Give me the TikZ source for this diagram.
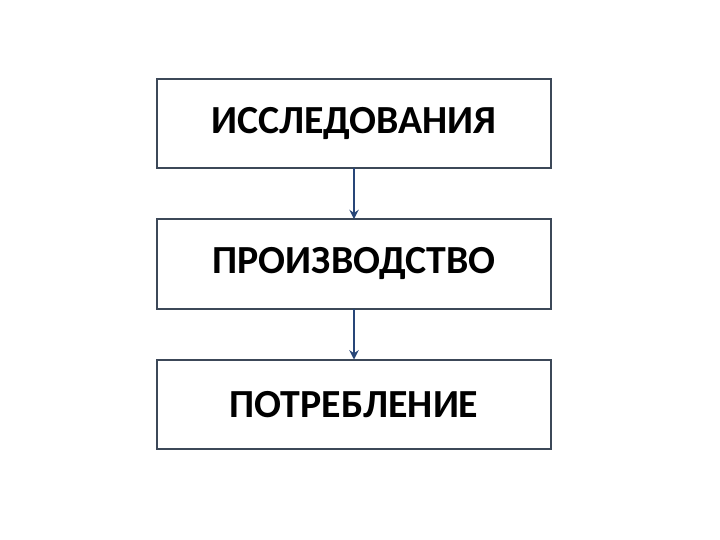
\documentclass[tikz,border=0pt]{standalone}
\usepackage{fontspec}
\setmainfont{Carlito}
\usetikzlibrary{positioning,arrows.meta}
\begin{document}
\begin{tikzpicture} [x=0.03cm,y=-0.03cm,% ------ Schéma -----------------
      box/.style={draw=boxcol, line width=1.7pt, minimum width=11.82cm,
        minimum height=2.68cm, inner sep=0pt, outer sep=0pt,
        font=\fontsize{34}{40}\selectfont\bfseries},
      link/.style={draw=linkcol, line width=1.7pt, -{Stealth[length=8pt,width=8pt]}}]
    \definecolor{boxcol}{RGB}{60,72,88}
    \definecolor{linkcol}{RGB}{40,70,120}
    \useasboundingbox (0,0) rectangle (720,540);
    \node [box] (recherche) at (354,123.5) {ИССЛЕДОВАНИЯ};
    \node [box, below=1.53cm of recherche] (production) {ПРОИЗВОДСТВО};
    \node [box, below=1.53cm of production] (consommation) {ПОТРЕБЛЕНИЕ};
    \draw [link] (recherche) -- (production);
    \draw [link] (production) -- (consommation);
\end{tikzpicture}
\end{document}
